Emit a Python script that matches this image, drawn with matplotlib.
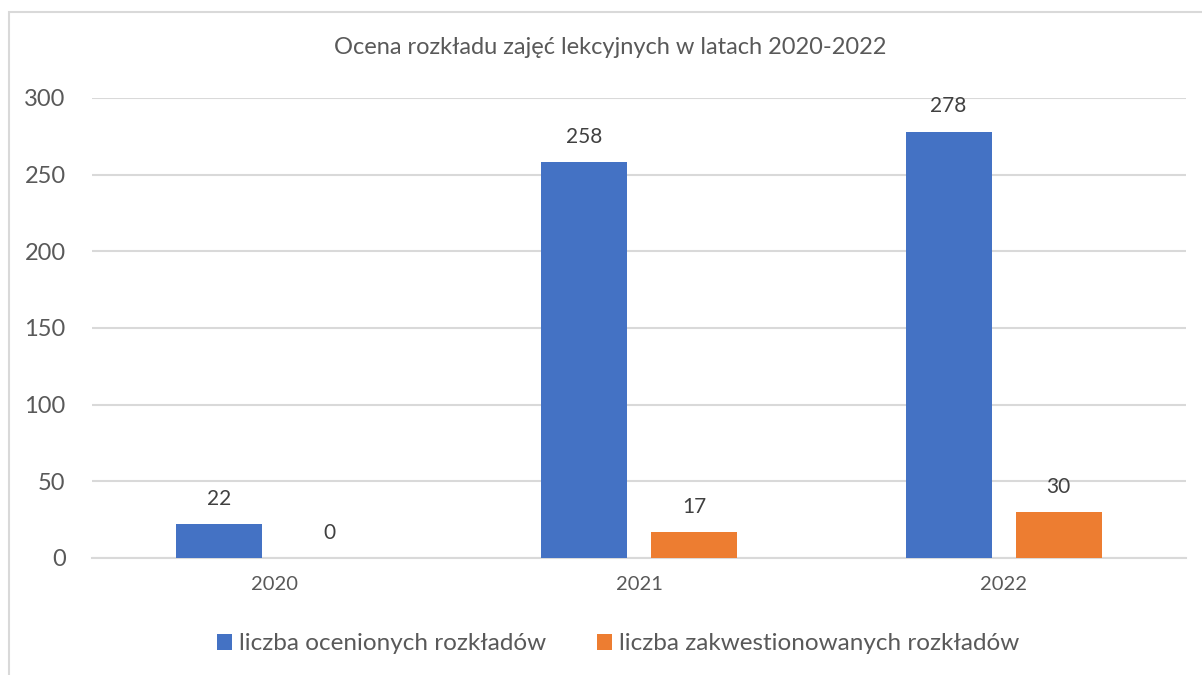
#!/usr/bin/env python3

import numpy as np
import matplotlib
matplotlib.use('agg')
import matplotlib.pyplot as plt
from matplotlib.patches import Rectangle

# data
years = ['2020', '2021', '2022']
ocenione = [22, 258, 278]
zakwestionowane = [0, 17, 30]
series_names = ['liczba ocenionych rozkładów', 'liczba zakwestionowanych rozkładów']
title = 'Ocena rozkładu zajęć lekcyjnych w latach 2020-2022'

blue = '#4472C4'
orange = '#ED7D31'
text_col = '#595959'
grid_col = '#D9D9D9'

plt.rcParams['font.family'] = ['Lato', 'DejaVu Sans']

fig = plt.figure(figsize=(12.02, 6.75), dpi=100)
ax = fig.add_axes([92 / 1202, 1 - 558 / 675, (1186 - 92) / 1202, 460 / 675])

x = np.arange(len(years))
width = 0.236
offset = 0.151
b1 = ax.bar(x - offset, ocenione, width, color=blue, label=series_names[0], zorder=3)
b2 = ax.bar(x + offset, zakwestionowane, width, color=orange, label=series_names[1], zorder=3)

for bars, vals in [(b1, ocenione), (b2, zakwestionowane)]:
    for bar, v in zip(bars, vals):
        ax.annotate(str(v), (bar.get_x() + bar.get_width() / 2, v), xytext=(0, 11),
                    textcoords='offset points', ha='center', va='bottom',
                    fontsize=15, color='#404040')

ax.set_xlim(-0.5, 2.5)
ax.set_ylim(0, 300)
ax.set_yticks(range(0, 301, 50))
ax.set_xticks(x)
ax.set_xticklabels(years)
ax.yaxis.grid(True, color=grid_col, linewidth=1.5, zorder=0)
ax.tick_params(axis='y', length=0, labelsize=17, labelcolor=text_col, pad=19)
ax.tick_params(axis='x', length=0, labelsize=14.5, labelcolor=text_col, pad=13)
for side in ['top', 'right', 'left']:
    ax.spines[side].set_visible(False)
ax.spines['bottom'].set_color(grid_col)
ax.spines['bottom'].set_linewidth(1.5)

fig.text(610 / 1202, 1 - 48 / 675, title, ha='center', va='center', fontsize=17, color=text_col)

fig.legend(handles=[b1, b2], loc='center', bbox_to_anchor=(618 / 1202, 1 - 644 / 675),
           ncol=2, frameon=False, fontsize=17.5, labelcolor=text_col,
           handlelength=0.6, handleheight=0.6, handletextpad=0.3, columnspacing=2.1)

# outer chart border (starts just inside the image, cut by the right/bottom edges)
fig.patches.append(Rectangle((9 / 1202, -0.05), 1.1, 1 - 12 / 675 + 0.05,
                             transform=fig.transFigure, fill=False,
                             edgecolor='#D9D9D9', linewidth=1.5))

fig.savefig('out.png', dpi=100)
